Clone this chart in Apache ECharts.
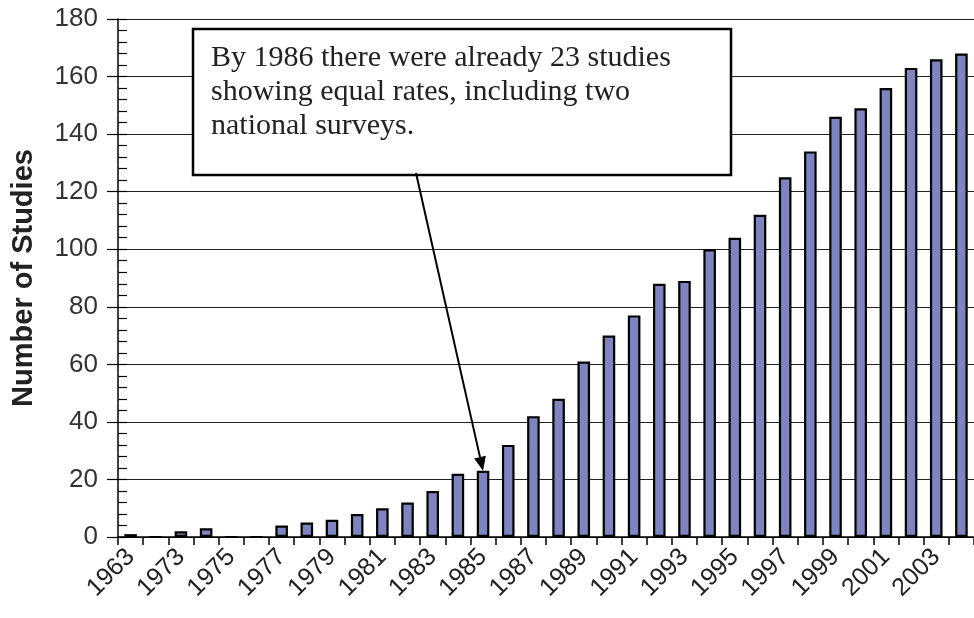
<!DOCTYPE html>
<html>
<head>
<meta charset="utf-8">
<script src="https://cdn.jsdelivr.net/npm/echarts@6/dist/echarts.min.js"></script>
<style>
  html, body { margin: 0; padding: 0; background: #ffffff; }
  #chart { width: 974px; height: 618px; }
</style>
</head>
<body>
<div id="chart"></div>
<script>
// Studies per year
const years = ['1963', '1972', '1973', '1974', '1975', '1976', '1977', '1978', '1979', '1980',
  '1981', '1982', '1983', '1984', '1985', '1986', '1987', '1988', '1989', '1990',
  '1991', '1992', '1993', '1994', '1995', '1996', '1997', '1998', '1999', '2000',
  '2001', '2002', '2003', '2004'];
const studies = [1, 0, 2, 3, 0, 0, 4, 5, 6, 8,
  10, 12, 16, 22, 23, 32, 42, 48, 61, 70,
  77, 88, 89, 100, 104, 112, 125, 134, 146, 149,
  156, 163, 166, 168];

const yTicks = { min: 0, max: 180, major: 20, minor: 4 };
const axisTitle = 'Number of Studies';
const noteLines = [
  'By 1986 there were already 23 studies',
  'showing equal rates, including two',
  'national surveys.'
];
const noteTarget = ['1985', 23];

const chart = echarts.init(document.getElementById('chart'), null, { renderer: 'canvas' });

const option = {
  animation: false,
  backgroundColor: '#ffffff',
  grid: { left: 118, right: -11, top: 19, bottom: 81 },
  xAxis: {
    type: 'category',
    data: years,
    boundaryGap: true,
    axisLine: { show: true, lineStyle: { color: '#000', width: 1.5 } },
    axisTick: { show: true, interval: 0, length: 8, lineStyle: { color: '#000', width: 1.5 } },
    axisLabel: {
      interval: 1,
      rotate: 45,
      margin: 16,
      color: '#222',
      fontFamily: 'Liberation Sans, Arial, sans-serif',
      fontSize: 25
    },
    splitLine: { show: false }
  },
  yAxis: [
    {
      type: 'value',
      min: yTicks.min,
      max: yTicks.max,
      interval: yTicks.major,
      name: axisTitle,
      nameLocation: 'middle',
      nameGap: 80,
      nameTextStyle: {
        color: '#222',
        fontFamily: 'Liberation Sans, Arial, sans-serif',
        fontSize: 29,
        fontWeight: 'bold'
      },
      axisLine: { show: true, lineStyle: { color: '#000', width: 1.5 } },
      axisTick: { show: true, length: 11, lineStyle: { color: '#000', width: 1.2 } },
      axisLabel: {
        margin: 20,
        color: '#333',
        fontFamily: 'Liberation Sans, Arial, sans-serif',
        fontSize: 26
      },
      splitLine: { show: true, lineStyle: { color: '#222', width: 1 } }
    },
    {
      // inner minor ticks along the value axis
      type: 'value',
      position: 'left',
      min: yTicks.min,
      max: yTicks.max,
      interval: yTicks.minor,
      axisLine: { show: false },
      axisTick: { show: true, inside: true, length: 9, lineStyle: { color: '#000', width: 1.2 } },
      axisLabel: { show: false },
      splitLine: { show: false }
    }
  ],
  series: [
    {
      type: 'bar',
      data: studies,
      yAxisIndex: 0,
      barWidth: '50%',
      itemStyle: {
        color: '#7D84BF',
        borderColor: '#000',
        borderWidth: 2.2
      }
    }
  ]
};

chart.setOption(option);

// Callout box with an arrow pointing at the 1985 bar
const tip = chart.convertToPixel({ seriesIndex: 0 }, noteTarget);
const start = [416, 173];
const dx = tip[0] - start[0];
const dy = tip[1] - start[1];
const len = Math.sqrt(dx * dx + dy * dy);
const ux = dx / len, uy = dy / len;
const headLen = 14, headHalf = 6;
const baseX = tip[0] - ux * headLen, baseY = tip[1] - uy * headLen;

chart.setOption({
  graphic: [
    {
      type: 'rect',
      shape: { x: 193, y: 29, width: 538, height: 146 },
      style: { fill: '#ffffff', stroke: '#000', lineWidth: 2.5 },
      z: 100
    },
    {
      type: 'text',
      x: 211,
      y: 41,
      style: {
        text: noteLines.join('\n'),
        fill: '#222',
        font: '30px "Liberation Serif", "Times New Roman", serif',
        lineHeight: 34
      },
      z: 101
    },
    {
      type: 'line',
      shape: { x1: start[0], y1: start[1], x2: baseX, y2: baseY },
      style: { stroke: '#000', lineWidth: 2 },
      z: 101
    },
    {
      type: 'polygon',
      shape: {
        points: [
          [tip[0], tip[1]],
          [baseX - uy * headHalf, baseY + ux * headHalf],
          [baseX + uy * headHalf, baseY - ux * headHalf]
        ]
      },
      style: { fill: '#000' },
      z: 101
    }
  ]
});
</script>
</body>
</html>
